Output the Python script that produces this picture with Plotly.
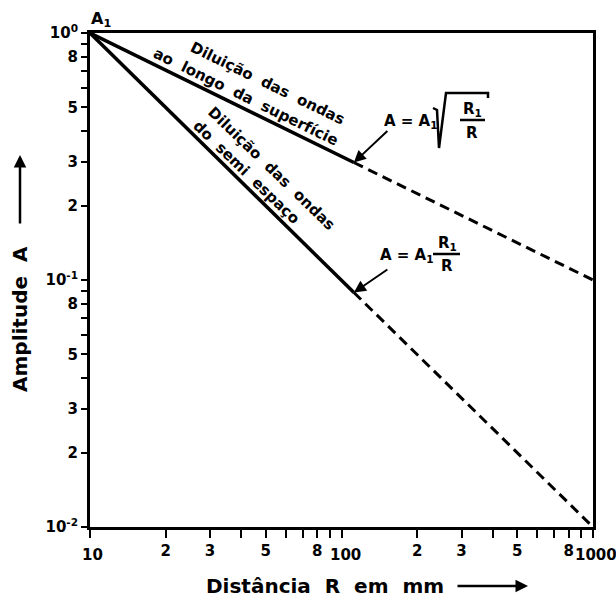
import math
import plotly.graph_objects as go

# ---------------- data ----------------
x_solid = [10, 112]
x_dash = [112, 1000]
surface_solid = [1.0, 0.299]      # A = A1*sqrt(R1/R)
surface_dash = [0.299, 0.1]
bulk_solid = [1.0, 0.089]         # A = A1*R1/R
bulk_dash = [0.089, 0.01]

x_tickvals = [10, 20, 30, 40, 50, 60, 70, 80, 90, 100,
              200, 300, 400, 500, 600, 700, 800, 900, 1000]
x_ticktext = ["", "2", "3", "", "5", "", "", "8", "", "",
              "2", "3", "", "5", "", "", "8", "", ""]
x_decades = [10, 100, 1000]
x_decade_text = ["10", "100", "1000"]

y_tickvals = [0.01, 0.02, 0.03, 0.04, 0.05, 0.06, 0.07, 0.08, 0.09, 0.1,
              0.2, 0.3, 0.4, 0.5, 0.6, 0.7, 0.8, 0.9, 1.0]
y_ticktext = ["10<sup>-2</sup>", "2", "3", "", "5", "", "", "8", "", "10<sup>-1</sup>",
              "2", "3", "", "5", "", "", "8", "", "10<sup>0</sup>"]

# ---------------- layout helpers ----------------
L, R_, T, B = 90, 23, 33, 78
W, H = 616, 605
PW, PH = W - L - R_, H - T - B
SP = "\u00a0"


def px(x):
    return (x - L) / PW


def py(y):
    return (H - B - y) / PH


def spaced(s, n=2):
    return s.replace(" ", SP * n)


FONT = "DejaVu Sans"
fig = go.Figure()

line_style_solid = dict(color="black", width=3.5)
line_style_dash = dict(color="black", width=3, dash="10px,6px")

fig.add_trace(go.Scatter(x=x_solid, y=surface_solid, mode="lines", line=line_style_solid, showlegend=False))
fig.add_trace(go.Scatter(x=x_dash, y=surface_dash, mode="lines", line=line_style_dash, showlegend=False))
fig.add_trace(go.Scatter(x=x_solid, y=bulk_solid, mode="lines", line=line_style_solid, showlegend=False))
fig.add_trace(go.Scatter(x=x_dash, y=bulk_dash, mode="lines", line=line_style_dash, showlegend=False))

annotations = []


def label(xp, yp, text, font, angle=0):
    return dict(x=px(xp), y=py(yp), xref="paper", yref="paper", text=text,
                textangle=angle, showarrow=False, xanchor="center", yanchor="middle",
                font=font)


# decade labels on x axis
for v, t in zip(x_decades, x_decade_text):
    annotations.append(dict(x=math.log10(v), y=0, xref="x", yref="paper", text=t,
                            showarrow=False, xanchor="center", yanchor="top", yshift=-17,
                            xshift={"10": 2, "100": 4, "1000": 3}[t],
                            font=dict(family=FONT, size=15, color="black", weight="bold")))

# A1 label
annotations.append(label(101, 19, "<b>A<sub>1</sub></b>", dict(family=FONT, size=16, color="black")))

# line labels
txt_font = dict(family=FONT, size=15, color="black", weight="bold")
annotations += [
    label(267, 83, spaced("Diluição das ondas"), txt_font, 26),
    label(246, 97, spaced("ao longo da superfície"), txt_font, 26),
    label(271, 168, spaced("Diluição das ondas"), txt_font, 44),
    label(246, 172, spaced("do semi espaço"), txt_font, 44),
]

# formulas
f_font = dict(family=FONT, size=15, color="black", weight="bold")
annotations += [
    label(411, 121, "A = A<sub>1</sub>", f_font),
    label(472, 110, "R<sub>1</sub>", f_font),
    label(472, 133, "R", f_font),
    label(407, 255, "A = A<sub>1</sub>", f_font),
    label(447, 243, "R<sub>1</sub>", f_font),
    label(447, 266, "R", f_font),
]

# arrows pointing to the end of the solid lines
annotations += [
    dict(x=math.log10(x_solid[1]), y=math.log10(surface_solid[1]), xref="x", yref="y",
         text="", showarrow=True, ax=35, ay=-33, arrowhead=2, arrowsize=1.2,
         arrowwidth=2, arrowcolor="black"),
    dict(x=math.log10(x_solid[1]), y=math.log10(bulk_solid[1]), xref="x", yref="y",
         text="", showarrow=True, ax=35, ay=-24, arrowhead=2, arrowsize=1.2,
         arrowwidth=2, arrowcolor="black"),
]

# axis titles
title_font = dict(family=FONT, size=20, color="black", weight="bold")
annotations += [
    label(325, 586, spaced("Distância R em mm"), title_font),
    dict(x=px(528), y=py(586), xref="paper", yref="paper", text="", showarrow=True,
         ax=-72, ay=0, arrowhead=2, arrowsize=1, arrowwidth=2.5, arrowcolor="black"),
    label(20, 319, spaced("Amplitude A"), title_font, -90),
    dict(x=px(20), y=py(155), xref="paper", yref="paper", text="", showarrow=True,
         ax=0, ay=70, arrowhead=2, arrowsize=1, arrowwidth=2.5, arrowcolor="black"),
]

shapes = [
    # radical sign
    dict(type="path", xref="paper", yref="paper",
         path=f"M {px(433)} {py(108)} L {px(437)} {py(110)} L {px(439)} {py(148)} "
              f"L {px(446)} {py(93)} L {px(488)} {py(93)} L {px(488)} {py(98)}",
         line=dict(color="black", width=2.5)),
    # fraction bars
    dict(type="line", xref="paper", yref="paper", x0=px(460), x1=px(485), y0=py(120), y1=py(120),
         line=dict(color="black", width=2.5)),
    dict(type="line", xref="paper", yref="paper", x0=px(433), x1=px(460), y0=py(254), y1=py(254),
         line=dict(color="black", width=2.5)),
]

axis_common = dict(type="log", showline=True, linewidth=3, linecolor="black", mirror=True,
                   ticks="outside", tickwidth=2, tickcolor="black", showgrid=False,
                   zeroline=False,
                   tickfont=dict(family=FONT, size=15, color="black", weight="bold"))

fig.update_layout(
    width=W, height=H, autosize=False,
    margin=dict(l=L, r=R_, t=T, b=B),
    paper_bgcolor="white", plot_bgcolor="white",
    xaxis=dict(range=[1, 3], tickmode="array", tickvals=x_tickvals, ticktext=x_ticktext,
               ticklen=8, **axis_common),
    yaxis=dict(range=[-2, 0], tickmode="array", tickvals=y_tickvals, ticktext=y_ticktext,
               ticklen=6, **axis_common),
    annotations=annotations,
    shapes=shapes,
    showlegend=False,
)

fig.write_html("out.html")
